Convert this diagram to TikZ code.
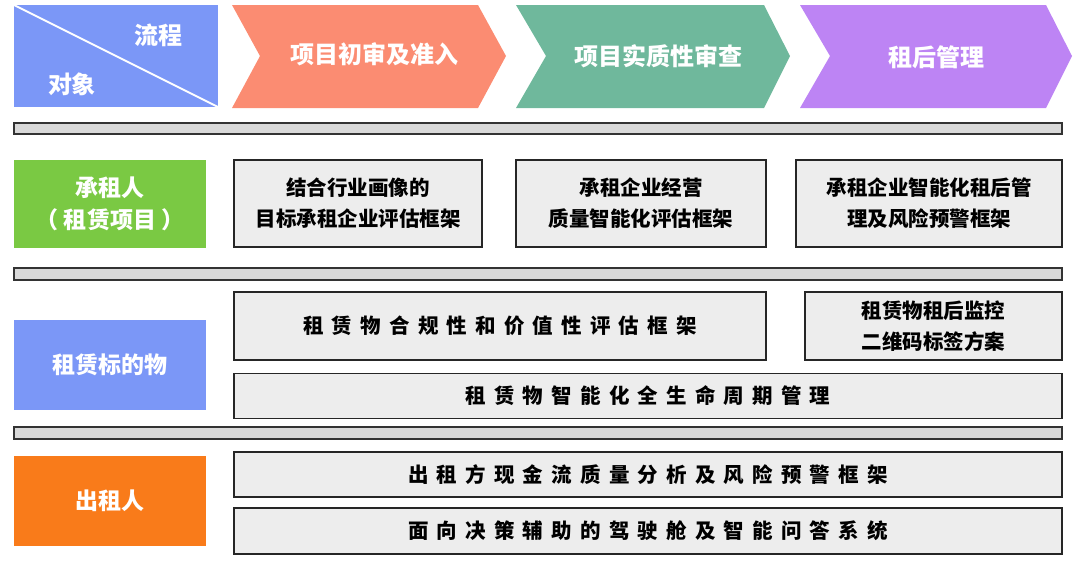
\documentclass[tikz,border=0pt]{standalone}
\usepackage{fontspec}
\setmainfont{Noto Sans CJK SC}
\newfontfamily\cjksp[LetterSpace=40]{Noto Sans CJK SC}
\begin{document}
\begin{tikzpicture}[x=1pt,y=-1pt,
  hdr/.style={text=white,font=\bfseries\fontsize{24}{28}\selectfont,align=center},
  obj/.style={draw=none,minimum width=192pt,text=white,font=\bfseries\fontsize{23}{32}\selectfont,align=center,inner sep=0},
  gbox/.style={draw=black!85,line width=1.4pt,fill=black!7,font=\bfseries\fontsize{20.5}{31}\selectfont,align=center,inner sep=0},
  bar/.style={draw=black!80,line width=1.2pt,fill=black!15}]
\useasboundingbox (0,0) rectangle (1080,563);
\definecolor{cblue}{HTML}{7B97F7}
\definecolor{csal}{HTML}{FB8C72}
\definecolor{cgrn}{HTML}{6FB89C}
\definecolor{cpur}{HTML}{BD84F4}
\definecolor{clime}{HTML}{7AC943}
\definecolor{corg}{HTML}{F97B1A}
% header
\fill[cblue] (14,5) rectangle (218,107);
\draw[white,line width=2pt] (14,5) -- (218,107);
\node[hdr] (flow) at (158,35) {流程};
\node[hdr] (obj) at (72,84) {对象};
\fill[csal] (232,5) -- (478,5) -- (506,56) -- (478,108) -- (232,108) -- (260,56) -- cycle;
\node[hdr] (h1) at (374,54) {项目初审及准入};
\fill[cgrn] (516,5) -- (764,5) -- (790,56) -- (764,108) -- (516,108) -- (546,56) -- cycle;
\node[hdr] (h2) at (658,56) {项目实质性审查};
\fill[cpur] (800,5) -- (1046,5) -- (1072,56) -- (1046,108) -- (800,108) -- (830,56) -- cycle;
\node[hdr] (h3) at (936,57) {租后管理};
% bars
\draw[bar] (14,123) rectangle (1062,134);
\draw[bar] (14,268) rectangle (1062,280);
\draw[bar] (14,427) rectangle (1062,439);
% row 1
\node[obj,fill=clime,minimum height=88pt] (r1) at (110,203.5) {承租人\\（ 租赁项目 ）};
\node[gbox,minimum width=248pt,minimum height=87pt] (b11) at (358,203.5) {结合行业画像的\\目标承租企业评估框架};
\node[gbox,minimum width=250pt,minimum height=87pt] (b12) at (641,203.5) {承租企业经营\\质量智能化评估框架};
\node[gbox,minimum width=266pt,minimum height=87pt] (b13) at (929,203.5) {承租企业智能化租后管\\理及风险预警框架};
% row 2
\node[obj,fill=cblue,minimum height=90pt] (r2) at (110,365) {租赁标的物};
\node[gbox,minimum width=532pt,minimum height=68pt] (b21) at (500,326) {\cjksp 租赁物合规性和价值性评估框架};
\node[gbox,minimum width=257pt,minimum height=68pt] (b22) at (933.5,326) {租赁物租后监控\\二维码标签方案};
\node[gbox,minimum width=828pt,minimum height=45pt] (b23) at (648,396) {\cjksp 租赁物智能化全生命周期管理};
% row 3
\node[obj,fill=corg,minimum height=90pt] (r3) at (110,501) {出租人};
\node[gbox,minimum width=828pt,minimum height=45pt] (b31) at (648,474.5) {\cjksp 出租方现金流质量分析及风险预警框架};
\node[gbox,minimum width=828pt,minimum height=46pt] (b32) at (648,531) {\cjksp 面向决策辅助的驾驶舱及智能问答系统};
\end{tikzpicture}
\end{document}
